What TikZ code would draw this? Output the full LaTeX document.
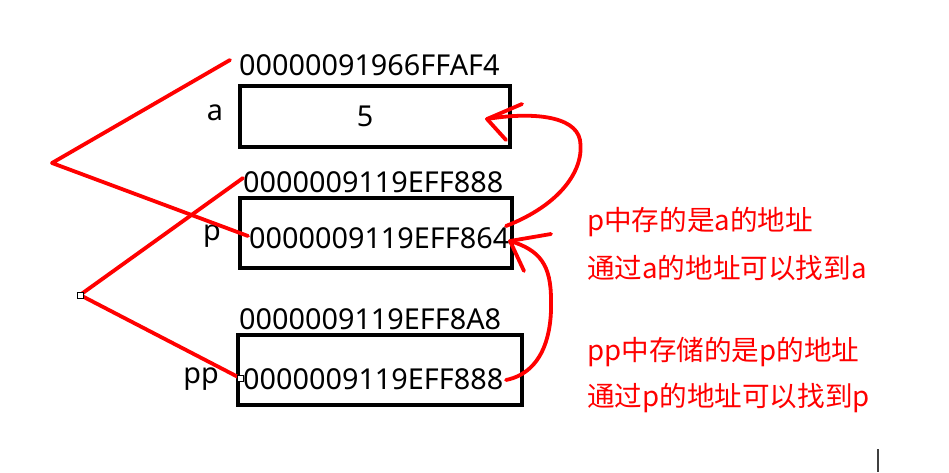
\documentclass[tikz,border=0pt]{standalone}
\usepackage{fontspec}
\setmainfont{Noto Sans}
\newfontfamily\cjk{Noto Sans CJK SC}
\begin{document}
\begin{tikzpicture}[x=1pt,y=-1pt,
  cell/.style={draw=black,line width=4pt},
  txt/.style={inner sep=0pt,font=\fontsize{28.8}{32}\selectfont},
  note/.style={inner sep=0pt,text=red,font=\cjk\fontsize{27.6}{32}\selectfont},
  redline/.style={draw=red,line width=3.8pt,line cap=round,line join=round},
  handle/.style={draw=black,fill=white,line width=0.6pt,minimum size=6pt,inner sep=0pt}]
\useasboundingbox[fill=white] (0,0) rectangle (949,473);
% boxes
\draw[cell] (240,86) rectangle (510,147);
\draw[cell] (240,198) rectangle (512,268);
\draw[cell] (238,335) rectangle (522,405);
% texts
\node[txt,anchor=base west] (addrA) at (239,76) {00000091966FFAF4};
\node[txt,anchor=base] (valA) at (365,127) {5};
\node[txt,anchor=base] (lblA) at (215,121) {a};
\node[txt,anchor=base west] (addrP) at (243,192) {0000009119EFF888};
\node[txt,anchor=base west] (valP) at (249,248) {0000009119EFF864};
\node[txt,anchor=base] (lblP) at (212,240) {p};
\node[txt,anchor=base west] (addrPP) at (239,329) {0000009119EFF8A8};
\node[txt,anchor=base west] (valPP) at (243,389) {0000009119EFF888};
\node[txt,anchor=base] (lblPP) at (201,383) {pp};
% notes
\node[note,anchor=west] (n1) at (587,222) {p中存的是a的地址};
\node[note,anchor=west] (n2) at (587,268) {通过a的地址可以找到a};
\node[note,anchor=west] (n3) at (587,352) {pp中存储的是p的地址};
\node[note,anchor=west] (n4) at (587,398) {通过p的地址可以找到p};
% coordinates
\coordinate (c1s) at (230,60);
\coordinate (c1m) at (52,163);
\coordinate (c1e) at (248,236);
\coordinate (c2s) at (243,178);
\coordinate (c2e) at (240,378);
\node[handle] (h1) at (80,295) {};
% red polylines
\draw[redline] (c1s) -- (c1m) -- (c1e);
\draw[redline] (c2s) -- (h1.center) -- (c2e);
\node[handle] at (h1) {};
\node[handle] (h2) at (c2e) {};
% curved arrow p -> a
\coordinate (a1s) at (506,226);
\coordinate (a1t) at (487,119);
\draw[redline] (a1s) .. controls (560,205) and (585,170) .. (580,140)
  .. controls (575,115) and (530,112) .. (a1t);
\draw[redline] (522,104) -- (a1t) -- (506,140);
% curved arrow pp -> p
\coordinate (a2s) at (506,380);
\coordinate (a2t) at (510,241);
\draw[redline] (a2s) .. controls (545,372) and (552,330) .. (551,300)
  .. controls (551,265) and (540,250) .. (a2t);
\draw[redline] (551,234) -- (a2t) -- (524,271);
% cursor
\draw[line width=2pt,draw=black!75] (878,449) -- (878,472);
\end{tikzpicture}
\end{document}
